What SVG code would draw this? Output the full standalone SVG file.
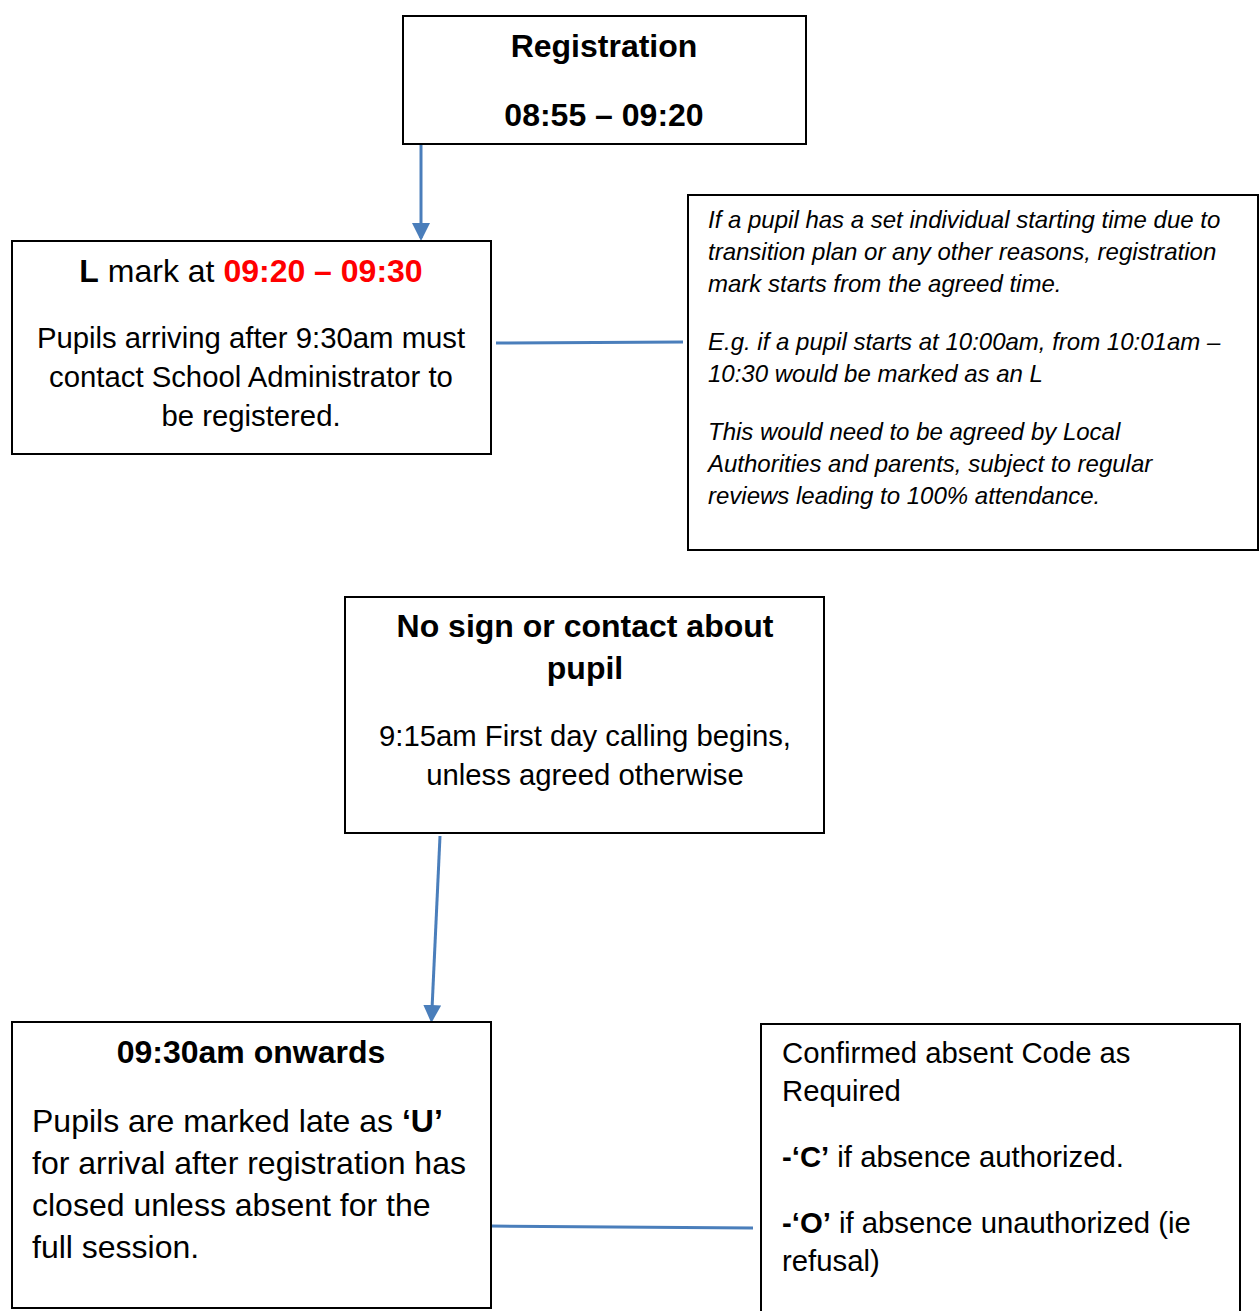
<svg xmlns="http://www.w3.org/2000/svg" width="1259" height="1311" viewBox="0 0 1259 1311">
<style>
.box{fill:#fff;stroke:#000;stroke-width:2}
text{font-family:"Liberation Sans",Arial,sans-serif;fill:#000}
.b{font-weight:bold}
.c{text-anchor:middle}
.it{font-style:italic;font-size:24px}
.body{font-size:29.3px}
.conn{stroke:#4A7EBB;stroke-width:3;fill:none}
.red{fill:#FF0000;font-weight:bold}
</style>
<defs>
<marker id="ah" markerWidth="6" markerHeight="6" refX="5" refY="3" orient="auto" markerUnits="strokeWidth">
<path d="M0,0 L6,3 L0,6 z" fill="#4A7EBB"/>
</marker>
</defs>
<g id="connectors">
<line class="conn" x1="421" y1="143" x2="421" y2="238" marker-end="url(#ah)"/>
<line class="conn" x1="496" y1="343" x2="683" y2="342"/>
<line class="conn" x1="440" y1="836" x2="431.5" y2="1020" marker-end="url(#ah)"/>
<line class="conn" x1="491" y1="1226" x2="753" y2="1228"/>
</g>
<g id="registration">
<rect class="box" x="403" y="16" width="403" height="128"/>
<text class="b c" x="604" y="57" font-size="32">Registration</text>
<text class="b c" x="604" y="126" font-size="32">08:55 – 09:20</text>
</g>
<g id="lmark">
<rect class="box" x="12" y="241" width="479" height="213"/>
<text class="c" x="251" y="282" font-size="32"><tspan class="b">L</tspan> mark at <tspan class="red">09:20 – 09:30</tspan></text>
<text class="c body" x="251" y="348">Pupils arriving after 9:30am must</text>
<text class="c body" x="251" y="387">contact School Administrator to</text>
<text class="c body" x="251" y="426">be registered.</text>
</g>
<g id="note">
<rect class="box" x="688" y="195" width="570" height="355"/>
<text class="it" x="708" y="228">If a pupil has a set individual starting time due to</text>
<text class="it" x="708" y="260">transition plan or any other reasons, registration</text>
<text class="it" x="708" y="292">mark starts from the agreed time.</text>
<text class="it" x="708" y="350">E.g. if a pupil starts at 10:00am, from 10:01am –</text>
<text class="it" x="708" y="382">10:30 would be marked as an L</text>
<text class="it" x="708" y="440">This would need to be agreed by Local</text>
<text class="it" x="708" y="472">Authorities and parents, subject to regular</text>
<text class="it" x="708" y="504">reviews leading to 100% attendance.</text>
</g>
<g id="nosign">
<rect class="box" x="345" y="597" width="479" height="236"/>
<text class="b c" x="585" y="637" font-size="32">No sign or contact about</text>
<text class="b c" x="585" y="679" font-size="32">pupil</text>
<text class="c body" x="585" y="746">9:15am First day calling begins,</text>
<text class="c body" x="585" y="785">unless agreed otherwise</text>
</g>
<g id="onwards">
<rect class="box" x="12" y="1022" width="479" height="286"/>
<text class="b c" x="251" y="1063" font-size="32">09:30am onwards</text>
<text x="32" y="1132" font-size="32">Pupils are marked late as <tspan class="b">‘U’</tspan></text>
<text x="32" y="1174" font-size="32">for arrival after registration has</text>
<text x="32" y="1216" font-size="32">closed unless absent for the</text>
<text x="32" y="1258" font-size="32">full session.</text>
</g>
<g id="confirmed">
<rect class="box" x="761" y="1024" width="479" height="300"/>
<text class="body" x="782" y="1063">Confirmed absent Code as</text>
<text class="body" x="782" y="1101">Required</text>
<text class="body" x="782" y="1167"><tspan class="b">-‘C’</tspan> if absence authorized.</text>
<text class="body" x="782" y="1233"><tspan class="b">-‘O’</tspan> if absence unauthorized (ie</text>
<text class="body" x="782" y="1271">refusal)</text>
</g>
</svg>
